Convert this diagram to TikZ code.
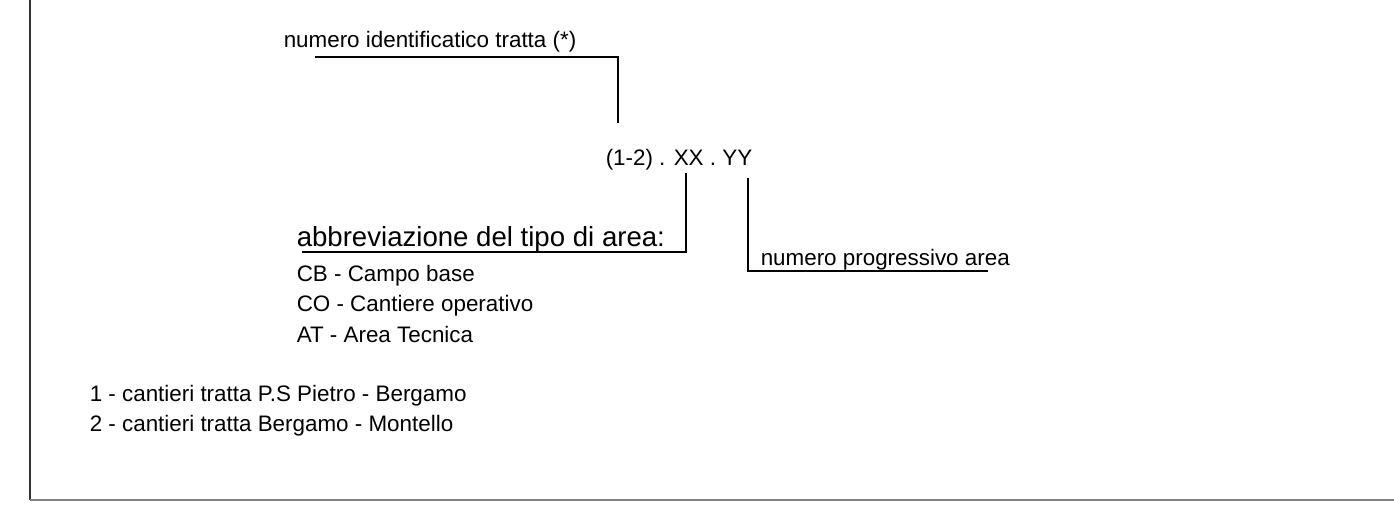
\documentclass[tikz,border=0pt]{standalone}
\usepackage{fontspec}
\setmainfont{Liberation Sans}
\begin{document}
\begin{tikzpicture}[x=0.5pt, y=-0.5pt, line width=0.75pt]
\tikzset{lbl/.style={anchor=base west, inner sep=0pt, font=\fontsize{11.2}{14}\selectfont},
  biglbl/.style={lbl, font=\fontsize{13.8}{16}\selectfont}}
\useasboundingbox (0,0) rectangle (1394,510);

\draw[black!80] (30,0) -- (30,500);
\draw[black!50, line width=1pt] (30,500) -- (1394,500);

\node[lbl] (tratta) at (283,47) {numero identificatico tratta (*)};
\node[lbl] (codice) at (605,165) {(1-2) . XX . YY};
\node[biglbl] (tipo) at (296,246) {abbreviazione del tipo di area:};
\node[lbl] (cb) at (296,281) {CB - Campo base};
\node[lbl] (co) at (296,311.5) {CO - Cantiere operativo};
\node[lbl] (at) at (296,342) {AT - Area Tecnica};
\node[lbl] (progr) at (760,265) {numero progressivo area};
\node[lbl] (leg1) at (89,401.5) {1 - cantieri tratta P.S Pietro - Bergamo};
\node[lbl] (leg2) at (89,431.5) {2 - cantieri tratta Bergamo - Montello};

\coordinate (trA) at (315,57);
\coordinate (trB) at (618,123);
\coordinate (xxA) at (686,173);
\coordinate (xxB) at (302,252);
\coordinate (yyA) at (748,178);
\coordinate (yyB) at (988,271);

\draw (trA) -| (trB);
\draw (xxA) |- (xxB);
\draw (yyA) |- (yyB);
\end{tikzpicture}
\end{document}
